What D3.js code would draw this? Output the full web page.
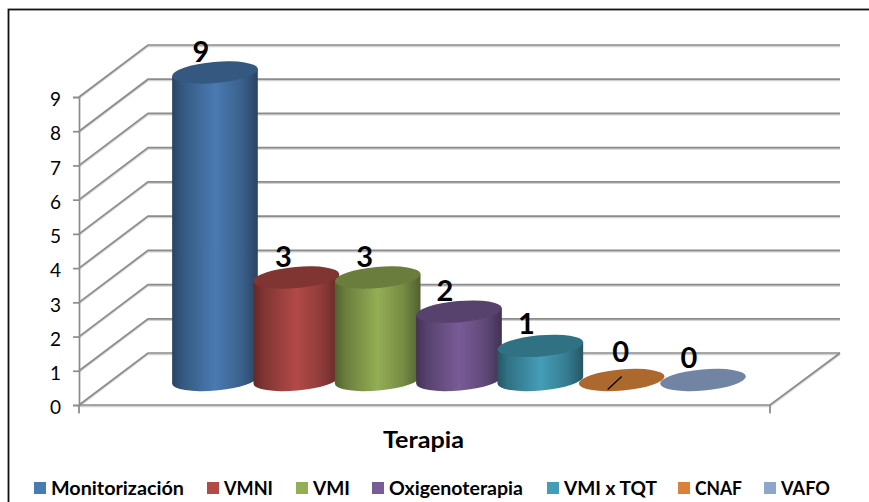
<!DOCTYPE html>
<html><head><meta charset="utf-8">
<script src="https://cdn.jsdelivr.net/npm/d3@7"></script>
<style>html,body{margin:0;padding:0;background:#fff;overflow:hidden}svg{display:block}text{font-family:Lato,"Open Sans",sans-serif;fill:#000}</style>
</head><body><svg id="c" width="869" height="502"></svg>
<script>
const categories=["Monitorización","VMNI","VMI","Oxigenoterapia","VMI x TQT","CNAF","VAFO"];
const values=[9,3,3,2,1,0,0];
const mainColors=["#4a7ab2","#b24a47","#93ae55","#785b97","#449db7","#d8823a","#8ea5cc"];
const ticks=[0,1,2,3,4,5,6,7,8,9];
const axisTitle="Terapia";

const svg=d3.select("#c");
const defs=svg.append("defs");
svg.append("rect").attr("x",8.5).attr("y",9.5).attr("width",880).attr("height",520).attr("fill","#fff").attr("stroke","#111").attr("stroke-width",1.8);

const yFront=d3.scaleLinear().domain([0,9]).range([405,97]);
const yBack=d3.scaleLinear().domain([0,9]).range([353,45]);
const yBar=d3.scaleLinear().domain([0,9]).range([380,72.5]);
const x=d3.scaleBand().domain(categories).range([174.3,743.7]);
const gridColor="#8c8c8c",gridShadow="#d2d2d2";
const X0=79,X1=770,BX0=148,BX1=840;

function gridLayer(color,off){
  const grid=svg.append("g").attr("fill","none").attr("stroke",color).attr("stroke-width",1.7).attr("transform",`translate(0,${off})`);
  ticks.forEach(t=>{
    grid.append("polyline").attr("points",[[X0,yFront(t)],[BX0,yBack(t)],[BX1,yBack(t)]].join(" "));
  });
  grid.append("polyline").attr("points",[[X0,yFront(0)],[X1,yFront(0)],[BX1,yBack(0)]].join(" "));
  grid.append("line").attr("x1",X1).attr("x2",X1).attr("y1",yFront(0)).attr("y2",413);
  grid.append("line").attr("x1",X0).attr("x2",X0).attr("y1",yFront(0)).attr("y2",413);
}
gridLayer(gridShadow,1.3);
gridLayer(gridColor,0);

const axis=svg.append("g").attr("transform",`translate(${X0},0)`).call(d3.axisLeft(yFront).tickValues(ticks).tickFormat(d3.format("d")).tickSize(6).tickPadding(12));
axis.select(".domain").attr("stroke",gridColor).attr("stroke-width",1.7);
axis.selectAll(".tick line").attr("stroke",gridColor).attr("stroke-width",1.7);
axis.selectAll("text").attr("font-size",19).attr("font-family","Lato").attr("dy",".46em").attr("fill","#000");

const rx=43,ry=10.6,tilt=-5;
const rad=tilt*Math.PI/180;
const dx=rx*Math.cos(rad),dy=rx*Math.sin(rad);
categories.forEach((c,i)=>{
  const col=d3.color(mainColors[i]);
  const g=defs.append("linearGradient").attr("id","g"+i);
  [[0,0.55],[0.12,0.72],[0.5,1],[0.8,0.8],[1,0.55]].forEach(([o,k])=>{
    g.append("stop").attr("offset",o).attr("stop-color",d3.rgb(col.r*k,col.g*k,col.b*k));
  });
});
const marks=svg.append("g");
categories.forEach((c,i)=>{
  const cx=x(c)+x.bandwidth()/2,yb=yBar(0),yt=yBar(values[i]);
  const col=d3.rgb(mainColors[i]);
  const g=marks.append("g");
  if(values[i]>0){
    g.append("path").attr("fill",`url(#g${i})`)
     .attr("d",`M${cx-dx},${yt-dy} L${cx-dx},${yb-dy} A${rx},${ry} ${tilt} 0 0 ${cx+dx},${yb+dy} L${cx+dx},${yt+dy} Z`);
    g.append("ellipse").attr("cx",cx).attr("cy",yt).attr("rx",rx).attr("ry",ry)
     .attr("transform",`rotate(${tilt} ${cx} ${yt})`).attr("fill",d3.rgb(col.r*0.72,col.g*0.72,col.b*0.72));
  } else {
    g.append("ellipse").attr("cx",cx).attr("cy",yt).attr("rx",rx).attr("ry",ry)
     .attr("transform",`rotate(${tilt} ${cx} ${yt})`).attr("fill",d3.rgb(col.r*0.8,col.g*0.8,col.b*0.8));
  }
});
// data labels
const labelOffset=[-10.5,-11,-11,-11,-12,-18,-12];
const labelDx=[-14,-13,-13,-14,-14,-1,-14];
svg.append("g").selectAll("text").data(values).join("text")
  .attr("x",(d,i)=>x(categories[i])+x.bandwidth()/2+labelDx[i])
  .attr("y",(d,i)=>yBar(d)+labelOffset[i])
  .attr("text-anchor","middle").attr("font-size",29).attr("font-weight",700).text(d=>d);
// leader line on CNAF
const cn=x("CNAF")+x.bandwidth()/2;
svg.append("line").attr("x1",cn-14).attr("y1",yBar(0)+9.5).attr("x2",cn).attr("y2",yBar(0)-3.5).attr("stroke","#000").attr("stroke-width",1.3);

svg.append("text").attr("x",423.5).attr("y",448).attr("text-anchor","middle").attr("font-size",23).attr("font-weight",700).attr("textLength",81).attr("lengthAdjust","spacingAndGlyphs").text(axisTitle);

const legendX=[34,207,296,372,547,678,764];
const legendW=[133,49,37,134,93,47,49];
const leg=svg.append("g");
categories.forEach((c,i)=>{
  leg.append("rect").attr("x",legendX[i]).attr("y",482).attr("width",12).attr("height",12).attr("fill",mainColors[i]);
  leg.append("text").attr("x",legendX[i]+17).attr("y",495).attr("font-size",19).attr("font-weight",700).attr("textLength",legendW[i]).attr("lengthAdjust","spacingAndGlyphs").text(c);
});
</script></body></html>
